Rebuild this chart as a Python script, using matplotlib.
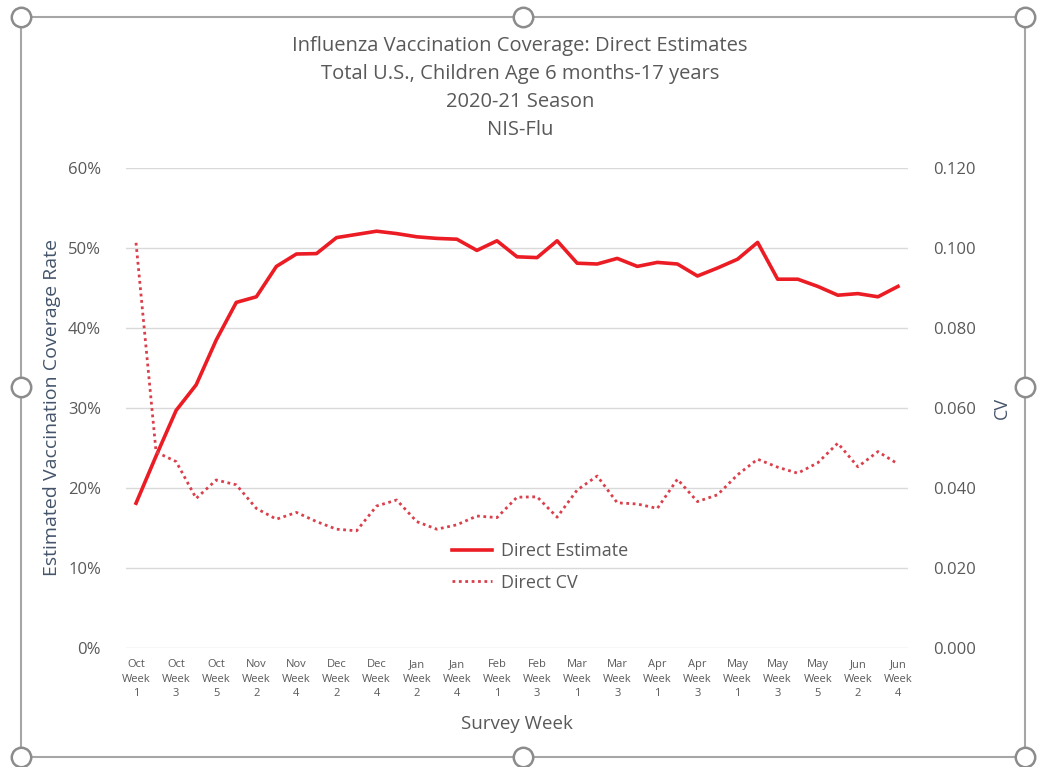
import matplotlib
matplotlib.use("Agg")
import matplotlib.pyplot as plt
from matplotlib.patches import Rectangle
from matplotlib.ticker import FuncFormatter

months = ["Oct"] * 5 + ["Nov"] * 4 + ["Dec"] * 4 + ["Jan"] * 5 + ["Feb"] * 4 + ["Mar"] * 4 + ["Apr"] * 4 + ["May"] * 5 + ["Jun"] * 4
weeks = [1, 2, 3, 4, 5, 1, 2, 3, 4, 1, 2, 3, 4, 1, 2, 3, 4, 5, 1, 2, 3, 4, 1, 2, 3, 4, 1, 2, 3, 4, 1, 2, 3, 4, 5, 1, 2, 3, 4]

direct_estimate = [18.1, 24.0, 29.7, 32.9, 38.5, 43.2, 43.9, 47.7, 49.25, 49.3,
                   51.3, 51.7, 52.1, 51.8, 51.4, 51.2, 51.1, 49.7, 50.9, 48.9,
                   48.8, 50.9, 48.1, 48.0, 48.7, 47.7, 48.2, 48.0, 46.5, 47.5,
                   48.6, 50.7, 46.1, 46.1, 45.2, 44.1, 44.3, 43.9, 45.2]

direct_cv = [0.1013, 0.049, 0.0466, 0.0374, 0.042, 0.0408, 0.0349, 0.0322, 0.0339, 0.0316,
             0.0297, 0.0293, 0.0355, 0.037, 0.0316, 0.0297, 0.0308, 0.033, 0.0326, 0.0377,
             0.0378, 0.0327, 0.0395, 0.043, 0.0363, 0.036, 0.0349, 0.0422, 0.0366, 0.0383,
             0.0433, 0.0472, 0.0452, 0.0437, 0.0463, 0.0512, 0.0453, 0.0491, 0.046]

title_lines = ["Influenza Vaccination Coverage: Direct Estimates",
               "Total U.S., Children Age 6 months-17 years",
               "2020-21 Season",
               "NIS-Flu"]

FONT = "Open Sans"
GRAY = "#595959"
BLUE = "#44546a"
RED = "#eb1c24"
CVRED = "#d9404c"

W, H = 1039, 767
fig = plt.figure(figsize=(W / 100, H / 100), dpi=100)
fig.patch.set_facecolor("white")

# selection frame (as in the reference screenshot)
fx0, fy0, fx1, fy1 = 21, 17, 1025, 757
fig.add_artist(Rectangle((fx0 / W, 1 - fy1 / H), (fx1 - fx0) / W, (fy1 - fy0) / H,
                         transform=fig.transFigure, fill=False, edgecolor="#a6a6a6", lw=1.5))
mx, my = (fx0 + fx1) / 2, (fy0 + fy1) / 2
for cx, cy in [(fx0, fy0), (mx, fy0), (fx1, fy0), (fx0, my), (fx1, my), (fx0, fy1), (mx, fy1), (fx1, fy1)]:
    fig.add_artist(plt.Line2D([cx / W], [1 - cy / H], transform=fig.transFigure, marker="o",
                              markersize=14, markerfacecolor="white", markeredgecolor="#8c8c8c",
                              markeredgewidth=1.8, linestyle="none"))

ax = fig.add_axes([126 / W, 1 - 648 / H, (908 - 126) / W, (648 - 168) / H])
ax2 = ax.twinx()

x = list(range(len(direct_estimate)))
l1, = ax.plot(x, direct_estimate, color=RED, lw=2.6, label="Direct Estimate", zorder=3)
l2, = ax2.plot(x, direct_cv, color=CVRED, lw=2.0, linestyle=(0, (1, 1.3)), label="Direct CV")

ax.set_xlim(-0.5, len(x) - 0.5)
ax.set_ylim(0, 60)
ax2.set_ylim(0, 0.12)
ax.set_yticks(range(0, 61, 10))
ax2.set_yticks([i * 0.02 for i in range(7)])
ax.yaxis.set_major_formatter(FuncFormatter(lambda v, p: f"{int(v)}%"))
ax2.yaxis.set_major_formatter(FuncFormatter(lambda v, p: f"{v:.3f}"))

ax.grid(axis="y", color="#d9d9d9", lw=1)
ax.set_axisbelow(True)
for a in (ax, ax2):
    for s in a.spines.values():
        s.set_visible(False)
    a.tick_params(length=0, colors=GRAY)

ticks = x[::2]
ax.set_xticks(ticks)
ax.set_xticklabels([f"{months[i]}\nWeek\n{weeks[i]}" for i in ticks],
                   fontsize=8, color=GRAY, family=FONT, linespacing=1.45)
ax.tick_params(axis="x", pad=8)
for a in (ax, ax2):
    for lab in a.get_yticklabels():
        lab.set_fontsize(12); lab.set_family(FONT); lab.set_color(GRAY)
ax.tick_params(axis="y", pad=18)
ax2.tick_params(axis="y", pad=18)

ax.set_ylabel("Estimated Vaccination Coverage Rate", fontsize=14, color=BLUE, family=FONT, labelpad=5)
ax2.set_ylabel("CV", fontsize=13, color=BLUE, family=FONT, labelpad=12)
ax.set_xlabel("Survey Week", fontsize=13.5, color=GRAY, family=FONT, labelpad=11)

for i, t in enumerate(title_lines):
    fig.text(520 / W, 1 - (46 + i * 28) / H, t, ha="center", va="center",
             fontsize=14.5, color=GRAY, family=FONT)

leg = ax.legend(handles=[l1, l2], loc="upper left", bbox_to_anchor=((436 - 126) / (908 - 126), (648 - 526) / 480),
                frameon=False, prop={"family": FONT, "size": 13}, labelcolor=GRAY,
                handlelength=2.2, labelspacing=0.75, handletextpad=0.5)

fig.savefig("out.png", dpi=100, facecolor="white")
